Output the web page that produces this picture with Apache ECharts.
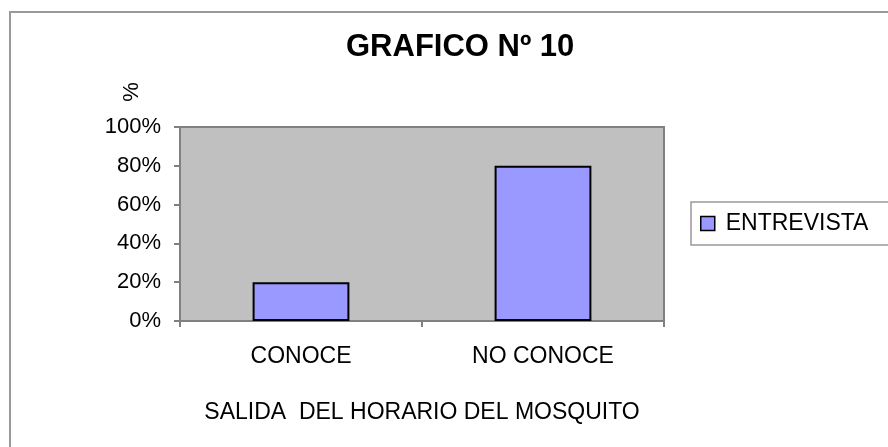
<!DOCTYPE html>
<html>
<head>
<meta charset="utf-8">
<script src="https://cdn.jsdelivr.net/npm/echarts@6/dist/echarts.min.js"></script>
<style>
  html, body { margin: 0; padding: 0; background: #fff; }
  #chart { width: 888px; height: 447px; }
</style>
</head>
<body>
<div id="chart"></div>
<script>
const categories = ['CONOCE', 'NO CONOCE']
const entrevista = [20, 80]
const seriesName = 'ENTREVISTA'
const titleText = 'GRAFICO Nº 10'
const xName = 'SALIDA  DEL HORARIO DEL MOSQUITO'
const yName = '%'

const font = "'Liberation Sans', Arial, sans-serif"

const chart = echarts.init(document.getElementById('chart'))

const option = {
  backgroundColor: '#fff',
  animation: false,
  title: {
    text: titleText,
    left: 341,
    top: 27,
    textStyle: { fontFamily: font, fontSize: 31, fontWeight: 'bold', color: '#000' }
  },
  legend: {
    data: [seriesName],
    left: 691,
    top: 202,
    orient: 'vertical',
    backgroundColor: '#fff',
    borderColor: '#999',
    borderWidth: 1.5,
    padding: [10, 60, 10, 9],
    itemWidth: 14,
    itemHeight: 14,
    itemGap: 0,
    icon: 'rect',
    itemStyle: { color: '#9999FF', borderColor: '#000', borderWidth: 1.5 },
    textStyle: { fontFamily: font, fontSize: 23, color: '#000', padding: [0, 0, 0, 6] }
  },
  grid: {
    left: 180,
    right: 224,
    top: 127,
    bottom: 126,
    show: true,
    backgroundColor: '#C0C0C0',
    borderColor: '#808080',
    borderWidth: 2
  },
  xAxis: {
    type: 'category',
    data: categories,
    name: xName,
    nameLocation: 'middle',
    nameGap: 80,
    nameTextStyle: { fontFamily: font, fontSize: 23, color: '#000' },
    axisLine: { lineStyle: { color: '#808080', width: 2 } },
    axisTick: { show: true, length: 6, lineStyle: { color: '#808080', width: 2 } },
    axisLabel: { margin: 24, fontFamily: font, fontSize: 23, color: '#000' }
  },
  yAxis: {
    type: 'value',
    min: 0,
    max: 100,
    interval: 20,
    axisLine: { show: true, lineStyle: { color: '#808080', width: 2 } },
    axisTick: { show: true, length: 6, lineStyle: { color: '#808080', width: 2 } },
    splitLine: { show: false },
    axisLabel: { formatter: '{value}%', margin: 19, fontFamily: font, fontSize: 22, color: '#000' }
  },
  series: [
    {
      name: seriesName,
      type: 'bar',
      data: entrevista,
      barWidth: '40%',
      itemStyle: { color: '#9999FF', borderColor: '#000', borderWidth: 2 }
    }
  ],
  graphic: [
    {
      type: 'polyline',
      shape: { points: [[10, 447], [10, 12], [888, 12]] },
      style: { stroke: '#999', lineWidth: 2, fill: null },
      silent: true
    },
    {
      type: 'text',
      x: 132,
      y: 92,
      rotation: Math.PI / 2,
      style: {
        text: yName,
        fontFamily: font,
        fontSize: 22,
        fill: '#000',
        align: 'center',
        verticalAlign: 'middle'
      },
      silent: true
    }
  ]
}

chart.setOption(option)
</script>
</body>
</html>
